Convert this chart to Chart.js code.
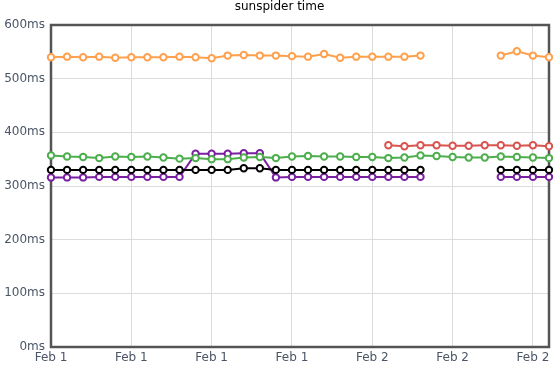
<!DOCTYPE html>
<html>
<head>
<meta charset="utf-8">
<script src="https://cdn.jsdelivr.net/npm/chart.js@4"></script>
<style>
html,body{margin:0;padding:0;background:#fff;}
#wrap{width:559px;height:367px;position:relative;}
</style>
</head>
<body>
<div id="wrap"><canvas id="c" width="559" height="367"></canvas></div>
<script>
const dayLabels = [
  "Feb 1","Feb 1","Feb 1","Feb 1","Feb 1","Feb 1","Feb 1","Feb 1","Feb 1","Feb 1",
  "Feb 1","Feb 1","Feb 1","Feb 1","Feb 1","Feb 1","Feb 1","Feb 1","Feb 2","Feb 2",
  "Feb 2","Feb 2","Feb 2","Feb 2","Feb 2","Feb 2","Feb 2","Feb 2","Feb 2","Feb 2",
  "Feb 2","Feb 2"
];
const yTicks = [0, 100, 200, 300, 400, 500, 600];

const orangeSeries = [540,541,540,541,539,540,540,540,541,540,538,543,544,543,543,542,541,546,539,541,541,541,541,543,null,null,null,null,543,551,543,540];
const redSeries = [null,null,null,null,null,null,null,null,null,null,null,null,null,null,null,null,null,null,null,null,null,376,374,376,376,375,375,376,376,375,376,374];
const greenSeries = [357,355,354,352,355,354,355,353,351,352,350,350,353,354,352,355,356,355,355,354,354,352,353,357,356,354,353,353,355,354,353,352];
const blackSeries = [330,330,330,330,330,330,330,330,330,330,330,330,333,333,330,330,330,330,330,330,330,330,330,330,null,null,null,null,330,330,330,330];
const purpleSeries = [316,316,316,317,317,317,317,317,317,360,360,360,361,361,316,317,317,317,317,317,317,317,317,317,null,null,null,null,317,317,317,317];

const seriesColors = {
  orange: '#ffa04d',
  red: '#d9534f',
  green: '#4cae4c',
  black: '#000000',
  purple: '#7b1fa2'
};

function ds(data, color) {
  return {
    data: data,
    borderColor: color,
    backgroundColor: '#ffffff',
    pointBackgroundColor: '#ffffff',
    pointBorderColor: color,
    pointRadius: 3.2,
    pointBorderWidth: 2,
    borderWidth: 2,
    tension: 0,
    spanGaps: false,
    yAxisID: 'y'
  };
}

const frame = {
  id: 'frame',
  beforeDatasetsDraw(chart) {
    const a = chart.chartArea, ctx = chart.ctx;
    ctx.save();
    ctx.strokeStyle = '#555555';
    ctx.lineWidth = 2.5;
    ctx.strokeRect(a.left, a.top, a.right - a.left, a.bottom - a.top);
    ctx.restore();
  }
};

Chart.defaults.font.family = '"DejaVu Sans", Verdana, sans-serif';
Chart.defaults.font.size = 12;

new Chart(document.getElementById('c'), {
  type: 'line',
  data: {
    labels: dayLabels,
    datasets: [
      ds(orangeSeries, seriesColors.orange),
      ds(redSeries, seriesColors.red),
      ds(greenSeries, seriesColors.green),
      ds(blackSeries, seriesColors.black),
      ds(purpleSeries, seriesColors.purple)
    ]
  },
  options: {
    responsive: false,
    animation: false,
    layout: { padding: 0 },
    plugins: {
      legend: { display: false },
      tooltip: { enabled: false },
      title: {
        display: true,
        text: 'sunspider time',
        color: '#000000',
        font: { size: 12, weight: 'normal' },
        padding: { top: 0, bottom: 10.6 }
      }
    },
    scales: {
      x: {
        type: 'category',
        offset: false,
        border: { display: false },
        grid: {
          drawTicks: false,
          color: (c) => (c.index % 5 === 0 ? '#dcdcdc' : 'rgba(0,0,0,0)')
        },
        ticks: {
          autoSkip: false,
          maxRotation: 0,
          padding: 4,
          color: '#4a5566',
          callback: function(v, i) { return i % 5 === 0 ? dayLabels[i] : ''; }
        },
        afterFit: (s) => { s.height = 20; }
      },
      y: {
        min: 0,
        max: 600,
        border: { display: false },
        grid: { drawTicks: false, color: '#dcdcdc' },
        afterBuildTicks: (s) => { s.ticks = yTicks.map(v => ({ value: v })); },
        ticks: {
          padding: 6,
          color: '#4a5566',
          callback: (v) => v + 'ms'
        },
        afterFit: (s) => { s.width = 51; }
      },
      yRight: {
        position: 'right',
        min: 0,
        max: 600,
        border: { display: false },
        grid: { display: false, drawTicks: false },
        ticks: { display: false },
        afterFit: (s) => { s.width = 10; }
      }
    }
  },
  plugins: [frame]
});
</script>
</body>
</html>
